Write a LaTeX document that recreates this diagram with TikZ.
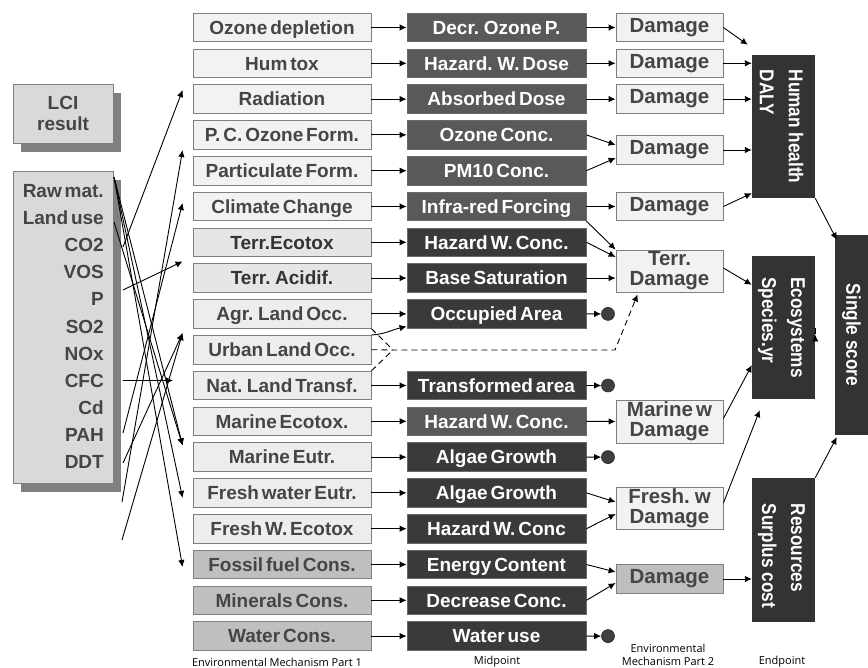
\documentclass[tikz,border=0pt]{standalone}
\usepackage{fontspec}
\setmainfont{Liberation Sans}
\newfontfamily\boxfont[WordSpace=0.55]{Liberation Sans}
\newfontfamily\narrowfont[FakeStretch=0.86]{Liberation Sans}
\newfontfamily\capfont{Open Sans}
\usetikzlibrary{arrows.meta,calc,shadows}
\definecolor{boxline}{HTML}{7F7F7F}
\definecolor{lightA}{HTML}{F2F2F2}
\definecolor{lightB}{HTML}{E6E6E6}
\definecolor{lightC}{HTML}{EDEDED}
\definecolor{grayC}{HTML}{BFBFBF}
\definecolor{middark}{HTML}{3A3A3A}
\definecolor{midmed}{HTML}{595959}
\definecolor{midline}{HTML}{6A6A6A}
\definecolor{txtgray}{HTML}{454545}
\definecolor{txtdark}{HTML}{333333}
\definecolor{lcifill}{HTML}{D9D9D9}
\definecolor{shadowgray}{HTML}{808080}
\definecolor{endfill}{HTML}{333333}
\definecolor{dotfill}{HTML}{3F3F3F}
\begin{document}
\begin{tikzpicture}[x=1pt,y=-1pt,
  arr/.style={-{Latex[length=7pt,width=6.5pt]}, line width=0.9pt, draw=black},
  dashline/.style={line width=0.9pt, draw=black, dash pattern=on 6pt off 4pt},
  bfont/.style={font={\boxfont\bfseries\fontsize{19pt}{21pt}\selectfont}},
  emA/.style={bfont, draw=boxline, line width=0.8pt, fill=lightA, minimum width=178pt, minimum height=28.5pt, inner sep=0pt, text=txtgray, text height=13.6pt, text depth=0pt},
  emB/.style={emA, fill=lightB, text=txtdark},
  emC/.style={emA, fill=lightC},
  emD/.style={emA, fill=grayC},
  midA/.style={bfont, draw=midline, line width=0.8pt, fill=midmed, minimum width=179pt, minimum height=28.5pt, inner sep=0pt, text=white, text height=13.6pt, text depth=0pt},
  midB/.style={midA, fill=middark},
  dam/.style={font={\boxfont\bfseries\fontsize{20.5pt}{20pt}\selectfont}, draw=boxline, line width=0.8pt, fill=lightA, minimum width=107pt, inner sep=0pt, text=txtgray, align=center},
  dot/.style={circle, fill=dotfill, draw=black!85, line width=0.6pt, minimum size=13pt, inner sep=0pt},
  endbox/.style={fill=endfill, inner sep=0pt},
  endtext/.style={rotate=-90, text=white, font={\narrowfont\bfseries\fontsize{20pt}{29pt}\selectfont}, inner sep=0pt, align=left},
  lcibox/.style={draw=boxline, line width=0.8pt, fill=lcifill, drop shadow={shadow xshift=8pt, shadow yshift=-9pt, fill=shadowgray, opacity=1}},
  subst/.style={bfont, anchor=east, inner sep=0pt, text=txtgray, text height=13.6pt, text depth=0pt},
  captxt/.style={font={\capfont\fontsize{11pt}{13.5pt}\selectfont}, align=center, inner sep=0pt}
]
\useasboundingbox (0,0) rectangle (868,668);

% ---------- LCI boxes ----------
\node[lcibox, bfont, text=txtgray, minimum width=100pt, minimum height=59pt, align=center, inner sep=0pt] (lci) at (63,113.5) {LCI\\[0pt]result};
\node[lcibox, minimum width=100pt, minimum height=312pt] (inv) at (63,327) {};
\foreach \k/\t in {0/Raw mat., 1/Land use, 2/CO2, 3/VOS, 4/P, 5/SO2, 6/NOx, 7/CFC, 8/Cd, 9/PAH, 10/DDT}
  \node[subst] (s\k) at (104,{190.5+27.15*\k}) {\t};

% ---------- Environmental mechanism part 1 ----------
\foreach \i/\t/\s in {0/Ozone depletion/emA, 1/Hum tox/emA, 2/Radiation/emA, 3/P. C. Ozone Form./emA,
  4/Particulate Form./emA, 5/Climate Change/emA, 6/Terr.Ecotox/emB, 7/Terr. Acidif./emB,
  8/Agr. Land Occ./emC, 9/Urban Land Occ./emC, 10/Nat. Land Transf./emC, 11/Marine Ecotox./emC,
  12/Marine Eutr./emC, 13/Fresh water Eutr./emC, 14/Fresh W. Ecotox/emC, 15/Fossil fuel Cons./emD,
  16/Minerals Cons./emD, 17/Water Cons./emD}
  \node[\s] (e\i) at (282,{27.5+35.8*\i}) {\t};

% ---------- Midpoint ----------
\foreach \i/\t/\s in {0/Decr. Ozone P./midA, 1/Hazard. W. Dose/midA, 2/Absorbed Dose/midA, 3/Ozone Conc./midA,
  4/PM10 Conc./midA, 5/Infra-red Forcing/midA, 6/Hazard W. Conc./midB, 7/Base Saturation/midB,
  8/Occupied Area/midB, 10/Transformed area/midB, 11/Hazard W. Conc./midA, 12/Algae Growth/midB,
  13/Algae Growth/midB, 14/Hazard W. Conc/midB, 15/Energy Content/midB, 16/Decrease Conc./midB,
  17/Water use/midB}
  \node[\s] (m\i) at (496.5,{27.5+35.8*\i}) {\t};

\foreach \i in {0,1,2,3,4,5,6,7,8,10,11,12,13,14,15,16,17}
  \draw[arr] (e\i.east) -- (m\i.west);

% ---------- dead-end dots ----------
\node[dot] (c8) at (608,313.9) {};
\node[dot] (c10) at (608,385.5) {};
\node[dot] (c12) at (608,457.1) {};
\node[dot] (c17) at (608,636.1) {};
\foreach \i in {8,10,12,17}
  \draw[arr] (m\i.east) -- (c\i.west);

% ---------- Environmental mechanism part 2 ----------
\node[dam, minimum height=28.5pt] (d0) at (669.5,27.5) {Damage};
\node[dam, minimum height=28.5pt] (d1) at (669.5,63.3) {Damage};
\node[dam, minimum height=28.5pt] (d2) at (669.5,99.1) {Damage};
\node[dam, minimum height=28.5pt] (d34) at (669.5,150) {Damage};
\node[dam, minimum height=28.5pt] (d5) at (669.5,206.5) {Damage};
\node[dam, minimum height=42pt] (terr) at (669.5,271) {Terr.\\Damage};
\node[dam, minimum height=43pt] (marine) at (669.5,421.5) {Marine w\\Damage};
\node[dam, minimum height=42pt] (fresh) at (669.5,508) {Fresh. w\\Damage};
\node[dam, minimum height=28.5pt, fill=grayC] (dres) at (669.5,579) {Damage};

\draw[arr] (m0.east) -- (d0.west);
\draw[arr] (m1.east) -- (d1.west);
\draw[arr] (m2.east) -- (d2.west);
\draw[arr] (m3.east) -- ($(d34.west)+(0,-5)$);
\draw[arr] (m4.east) -- ($(d34.west)+(0,8)$);
\draw[arr] (m5.east) -- (d5.west);
\draw[arr] (m5.south east) -- (terr.north west);
\draw[arr] (m6.east) -- ($(terr.west)+(0,-14)$);
\draw[arr] (m7.east) -- (m7.east -| terr.west);
\draw[arr] (m11.east) -- (marine.west);
\draw[arr] (m13.east) -- ($(fresh.west)+(0,-6)$);
\draw[arr] (m14.east) -- ($(fresh.west)+(0,6)$);
\draw[arr] (m15.east) -- ($(dres.west)+(0,-7)$);
\draw[arr] (m16.east) -- ($(dres.west)+(0,4)$);

% ---------- land use links ----------
\draw[arr] (e9.north east) .. controls +(14,-1) and +(-14,3) .. ($(m8.south west)+(0,-2)$);
\coordinate (jn) at (393,350);
\coordinate (kn) at (615,350);
\draw[dashline] (e8.south east) -- (jn);
\draw[dashline] (e10.north east) -- (jn);
\draw[dashline, -{Latex[length=7pt,width=6.5pt]}] (e9.east) -- (jn) -- (kn) -- ($(terr.south west)+(22,2)$);

% ---------- Endpoints ----------
\node[endbox, minimum width=63pt, minimum height=143pt] (hh) at (783.5,126.5) {};
\node[endbox, minimum width=63pt, minimum height=143pt] (eco) at (783.5,327.5) {};
\node[endbox, minimum width=63pt, minimum height=144pt] (res) at (783.5,550) {};
\node[endbox, minimum width=33pt, minimum height=200pt] (single) at (851.5,335) {};
\node[endtext] (hht) at ($(hh.center)+(-2,0)$) {Human health\\DALY};
\node[endtext] (ecot) at ($(eco.center)+(-2,0)$) {Ecosystems\\Species.yr};
\node[endtext] (rest) at ($(res.center)+(-2,6)$) {Resources\\Surplus cost};
\node[endtext] (singlet) at (single.center) {Single score};

\draw[arr] (d0.east) -- ($(hh.north west)+(-4,-10)$);
\draw[arr] (d1.east) -- (d1.east -| hh.west);
\draw[arr] (d2.east) -- (d2.east -| hh.west);
\draw[arr] (d34.east) -- (d34.east -| hh.west);
\draw[arr] (d5.east) -- ($(hh.south west)+(0,-5)$);
\draw[arr] ($(terr.east)+(0,-3)$) -- ($(eco.north west)+(0,29)$);
\draw[arr] ($(marine.east)+(0,-3)$) -- ($(eco.south west)+(0,-34)$);
\draw[arr] ($(fresh.east)+(0,-5)$) -- ($(eco.south west)+(8,11)$);
\draw[arr] (dres.east) -- (dres.east -| res.west);
\draw[arr] (hh.south east) -- ($(single.north west)+(2,5)$);
\draw[arr] ($(eco.east)+(0,7)$) -- ($(eco.east)+(0,7)$ -| single.west);
\draw[arr] (res.north east) -- ($(single.south west)+(2,2)$);

% ---------- LCI to mechanism links ----------
\coordinate (rawc) at (114,177);
\coordinate (landc) at (114,222);
\coordinate (co2c) at (123,247);
\coordinate (pc) at (123,290);
\coordinate (cfcc) at (123,380.5);
\coordinate (pahc) at (123,433);
\coordinate (ddtc) at (123,463);
\coordinate (xa) at (122,502);
\coordinate (xb) at (122,540);
\coordinate (cfct) at (173,380.5);
\draw[arr] (co2c) -- ($(e2.west)+(-10,-9)$);
\draw[arr] (xa) -- ($(e4.north west)+(-10,-6)$);
\draw[arr] (pahc) -- ($(e5.west)+(-10,-3.5)$);
\draw[arr] (pc) -- ($(e7.north west)+(-10,-2)$);
\draw[arr] (ddtc) -- ($(e9.north west)+(-10,-2)$);
\draw[arr] (xb) -- ($(e9.north west)+(-10,-2)$);
\draw[arr] (cfcc) -- (cfct);
\draw[arr] (rawc) -- ($(e12.north west)+(-10,3)$);
\draw[arr] (landc) -- ($(e12.north west)+(-10,3)$);
\draw[arr] (rawc) -- ($(e13.west)+(-10,5)$);
\draw[arr] (rawc) -- ($(e15.west)+(-10,2.5)$);

% ---------- captions ----------
\node[captxt] (cap1) at (277,662) {Environmental Mechanism Part 1};
\node[captxt] (cap2) at (497,662) {Midpoint};
\node[captxt] (cap3) at (668,655) {Environmental\\Mechanism Part 2};
\node[captxt] (cap4) at (782,662) {Endpoint};
\end{tikzpicture}
\end{document}
